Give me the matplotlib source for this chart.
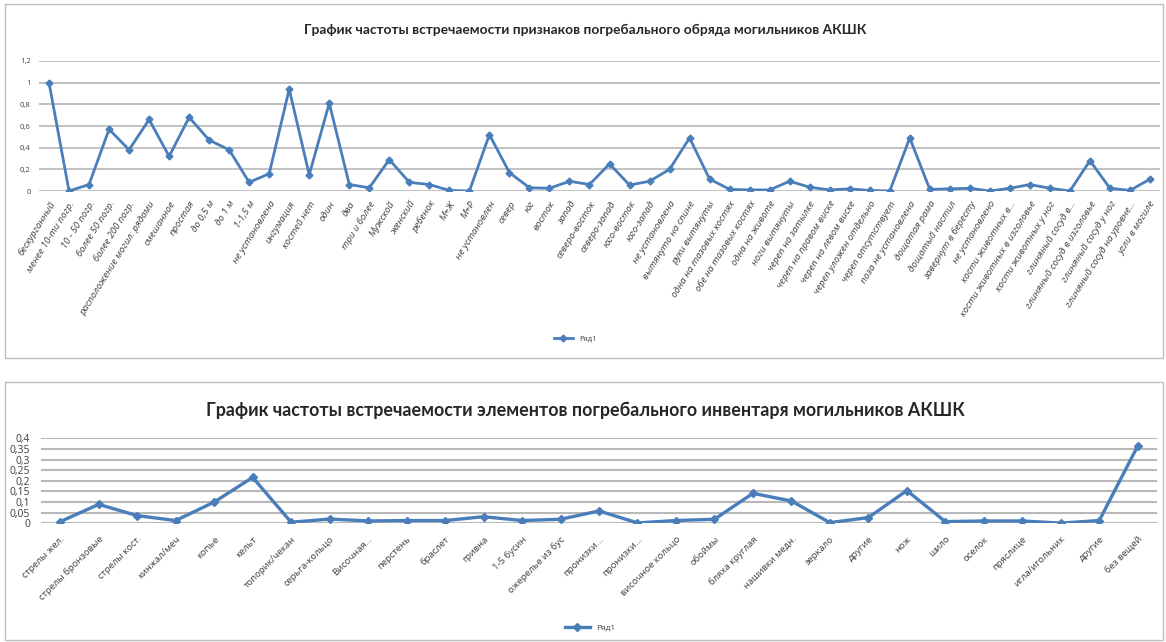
import matplotlib
matplotlib.use("Agg")
import matplotlib.pyplot as plt
from matplotlib.patches import Rectangle
import numpy as np

plt.rcParams['font.family'] = ['Open Sans', 'DejaVu Sans']

# ---------------- data ----------------
rite_labels = [
    "бескурганный", "менее 10-ти погр.", "10 - 50 погр.", "более 50 погр.", "более 200 погр.",
    "расположение могил: рядами", "смешанное", "простая", "до 0,5 м", "до 1 м", "1-1,5 м",
    "не установлена", "ингумация", "костей нет", "один", "два", "три и более", "Мужской",
    "женский", "ребенок", "М+Ж", "М+Р", "не установлен", "север", "юг", "восток", "запад",
    "северо-восток", "северо-запад", "юго-восток", "юго-запад", "не установлена",
    "вытянуто на спине", "руки вытянуты", "одна на тазовых костях", "обе на тазовых костях",
    "одна на животе", "ноги вытянуты", "череп на затылке", "череп на правом виске",
    "череп на левом виске", "череп уложен отдельно", "череп отсутствует", "поза не установлена",
    "дощатая рама", "дощатый настил", "завернут в бересту", "не установлено",
    "кости животных в…", "кости животных в изголовье", "кости животных у ног",
    "глиняный сосуд в…", "глиняный сосуд в изголовье", "глиняный сосуд у ног",
    "глиняный сосуд на уровне…", "угли в могиле",
]
rite_values = [
    1.00, 0.00, 0.06, 0.57, 0.38, 0.66, 0.32, 0.68, 0.47, 0.38, 0.08,
    0.16, 0.94, 0.15, 0.81, 0.06, 0.03, 0.29, 0.08, 0.06, 0.005, 0.00,
    0.52, 0.17, 0.03, 0.025, 0.09, 0.06, 0.25, 0.055, 0.09, 0.20,
    0.49, 0.11, 0.015, 0.01, 0.01, 0.09, 0.035, 0.01, 0.02, 0.005, 0.00,
    0.49, 0.015, 0.02, 0.025, 0.00, 0.025, 0.06, 0.025, 0.00, 0.28, 0.025,
    0.005, 0.11,
]
rite_yticks = [0, 0.2, 0.4, 0.6, 0.8, 1.0, 1.2]
rite_ytick_labels = ["0", "0,2", "0,4", "0,6", "0,8", "1", "1,2"]

inv_labels = [
    "стрелы жел.", "стрелы бронзовые", "стрелы кост.", "кинжал/меч", "копье", "кельт",
    "топорик/чекан", "серьга-кольцо", "Височная…", "перстень", "браслет", "гривна",
    "1-5 бусин", "ожерелье из бус", "пронизки…", "пронизки…", "височное кольцо", "обоймы",
    "бляха круглая", "нашивки медн.", "зеркало", "другие", "нож", "шило", "оселок",
    "пряслице", "игла/игольник", "другие", "без вещей",
]
inv_values = [
    0.008, 0.089, 0.036, 0.013, 0.10, 0.216, 0.005, 0.02, 0.011, 0.013, 0.013, 0.031,
    0.013, 0.019, 0.058, 0.002, 0.013, 0.019, 0.141, 0.105, 0.003, 0.027, 0.154,
    0.008, 0.011, 0.011, 0.001, 0.013, 0.364,
]
inv_yticks = [0, 0.05, 0.1, 0.15, 0.2, 0.25, 0.3, 0.35, 0.4]
inv_ytick_labels = ["0", "0,05", "0,1", "0,15", "0,2", "0,25", "0,3", "0,35", "0,4"]

series_name = "Ряд1"
title_top = "График частоты встречаемости признаков погребального обряда могильников АКШК"
title_bottom = "График частоты встречаемости элементов погребального инвентаря могильников АКШК"

# ---------------- figure ----------------
W, H = 1166, 642
fig = plt.figure(figsize=(W / 100, H / 100), dpi=100)
fig.patch.set_facecolor("white")

LINE = "#4a7ebb"
GRID = "#b8b8b8"
TXT = "#404040"
TITLE_FONT = ['Lato', 'Open Sans', 'DejaVu Sans']


def px_axes(l, t, r, b):
    return fig.add_axes([l / W, 1 - b / H, (r - l) / W, (b - t) / H])


# panel borders
for (l, t, r, b) in [(5, 4, 1163, 358), (5, 382, 1163, 640)]:
    fig.patches.append(Rectangle((l / W, 1 - b / H), (r - l) / W, (b - t) / H,
                                 transform=fig.transFigure, fill=False,
                                 edgecolor="#bdbdbd", linewidth=1.0))

# ---- top chart ----
ax1 = px_axes(39, 61, 1160, 191)
x1 = np.arange(len(rite_values))
ax1.plot(x1, rite_values, color=LINE, lw=2.0, marker="D", ms=3.5,
         label=series_name, zorder=3)
ax1.set_xlim(-0.5, len(rite_values) - 0.5)
ax1.set_ylim(0, 1.2)
ax1.set_yticks(rite_yticks)
ax1.set_yticklabels(rite_ytick_labels, fontsize=5.5, color=TXT)
ax1.set_xticks(x1)
ax1.set_xticklabels(rite_labels, rotation=58, ha="right", rotation_mode="anchor",
                    fontsize=6.8, color=TXT, style="italic")
ax1.grid(axis="y", color=GRID, lw=1.2)
ax1.set_axisbelow(True)
for s in ax1.spines.values():
    s.set_visible(False)
ax1.tick_params(length=0, pad=6)
fig.text(585 / W, 1 - 30 / H, title_top, ha="center", va="center",
         fontsize=9.9, fontweight="bold", color="#262626", family=TITLE_FONT)
fig.legend(*ax1.get_legend_handles_labels(), loc="center",
           bbox_to_anchor=(575 / W, 1 - 339 / H), frameon=False,
           fontsize=5.5, handlelength=2.5, labelcolor=TXT)

# ---- bottom chart ----
ax2 = px_axes(41, 438.3, 1157, 523.3)
x2 = np.arange(len(inv_values))
ax2.plot(x2, inv_values, color=LINE, lw=2.4, marker="D", ms=4,
         label=series_name, zorder=3)
ax2.set_xlim(-0.5, len(inv_values) - 0.5)
ax2.set_ylim(0, 0.4)
ax2.set_yticks(inv_yticks)
ax2.set_yticklabels(inv_ytick_labels, fontsize=7.5, color=TXT)
ax2.set_xticks(x2)
ax2.set_xticklabels(inv_labels, rotation=45, ha="right", rotation_mode="anchor",
                    fontsize=6.8, color=TXT)
ax2.grid(axis="y", color=GRID, lw=1.5)
ax2.set_axisbelow(True)
for s in ax2.spines.values():
    s.set_visible(False)
ax2.tick_params(length=0, pad=8)
fig.text(585 / W, 1 - 410 / H, title_bottom, ha="center", va="center",
         fontsize=12.9, fontweight="bold", color="#262626", family=TITLE_FONT)
fig.legend(*ax2.get_legend_handles_labels(), loc="center",
           bbox_to_anchor=(590 / W, 1 - 628 / H), frameon=False,
           fontsize=6, handlelength=3, labelcolor=TXT)

fig.savefig("out.png", dpi=100, facecolor="white")
